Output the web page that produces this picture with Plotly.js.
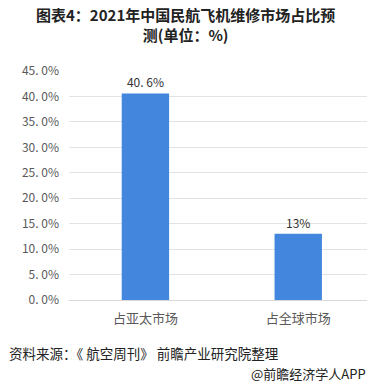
<!DOCTYPE html>
<html><head><meta charset="utf-8">
<script src="https://cdn.plot.ly/plotly-3.0.1.min.js"></script>
<style>body{margin:0;background:#fff}#c{width:370px;height:386px}</style>
</head><body><div id="c"></div>
<script>
const categories = ["占亚太市场", "占全球市场"];
const values = [40.6, 13];
const valueLabels = ["40. 6%", "13%"];
const tickVals = [0, 5, 10, 15, 20, 25, 30, 35, 40, 45];
const tickText = ["0. 0%", "5. 0%", "10. 0%", "15. 0%", "20. 0%", "25. 0%", "30. 0%", "35. 0%", "40. 0%", "45. 0%"];
const font = '"Noto Sans CJK SC", "Microsoft YaHei", sans-serif';
const PH = 229;
const py = px => (300 - px) / PH;
Plotly.newPlot('c', [{
  type: 'bar', x: [0, 1], y: values, width: 0.31,
  marker: {color: '#4286DD'},
  text: valueLabels, textposition: 'outside', cliponaxis: false,
  textfont: {family: font, size: 12, color: '#333'}
}], {
  width: 370, height: 386,
  margin: {l: 69, r: 3, t: 71, b: 86},
  paper_bgcolor: '#fff', plot_bgcolor: '#fff',
  showlegend: false,
  xaxis: {range: [-0.5, 1.45], tickvals: [0, 1], ticktext: categories, showgrid: false, zeroline: false,
    showline: true, linecolor: '#d9d9d9', ticks: '', ticklabelstandoff: 6,
    tickfont: {family: font, size: 13, color: '#595959'}},
  yaxis: {range: [0, 45], tickvals: tickVals, ticktext: tickText, showgrid: true, gridcolor: '#e3e3e3',
    zeroline: false, ticks: '', ticklen: 0, ticklabelstandoff: 9,
    tickfont: {family: font, size: 12, color: '#595959'}},
  annotations: [
    {text: '<b>图表4：2021年中国民航飞机维修市场占比预<br>测(单位：%)</b>', xref: 'paper', yref: 'paper', x: (185-69)/298, y: py(25),
      xanchor: 'center', yanchor: 'middle', showarrow: false, font: {family: font, size: 15, color: '#222'}},
    {text: '资料来源：《 航空周刊》 前瞻产业研究院整理', xref: 'paper', yref: 'paper', x: (7-69)/298, y: py(353),
      xanchor: 'left', yanchor: 'middle', showarrow: false, font: {family: font, size: 13.5, color: '#222'}},
    {text: '@前瞻经济学人APP', xref: 'paper', yref: 'paper', x: (368-69)/298, y: py(373),
      xanchor: 'right', yanchor: 'middle', showarrow: false, font: {family: font, size: 13, color: '#222'}}
  ]
}, {displayModeBar: false});
</script></body></html>
